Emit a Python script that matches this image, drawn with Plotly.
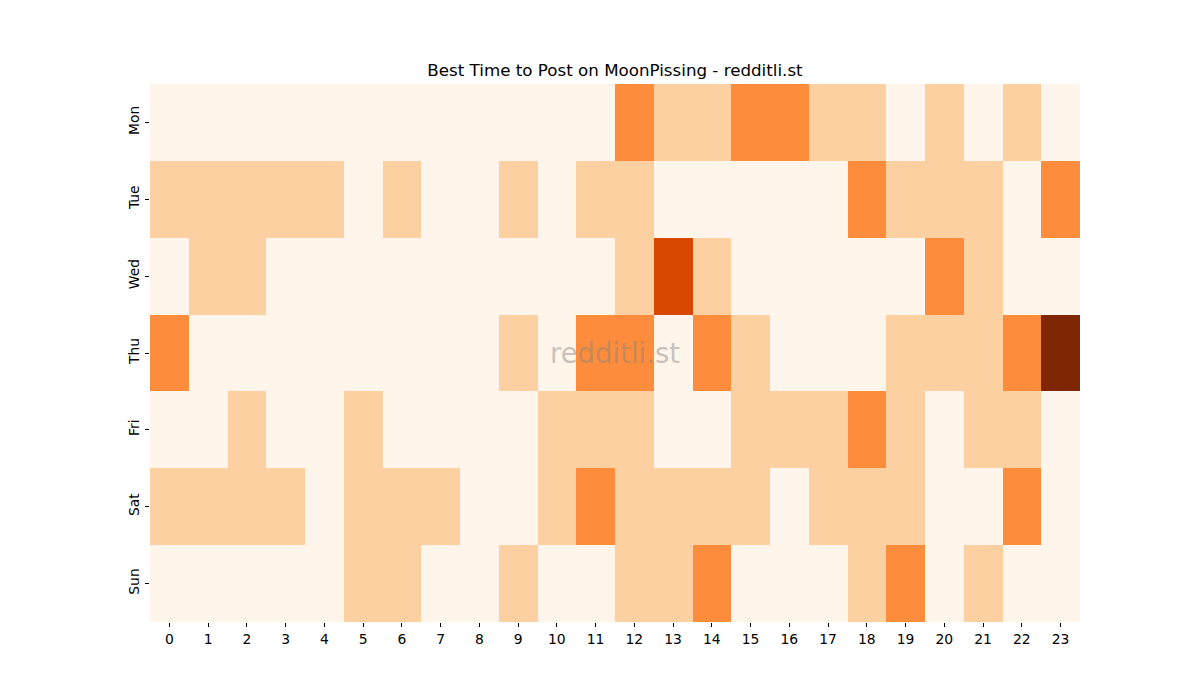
import plotly.graph_objects as go

days = ["Mon", "Tue", "Wed", "Thu", "Fri", "Sat", "Sun"]
hours = list(range(24))

mon = [0,0,0,0,0,0,0,0,0,0,0,0,2,1,1,2,2,1,1,0,1,0,1,0]
tue = [1,1,1,1,1,0,1,0,0,1,0,1,1,0,0,0,0,0,2,1,1,1,0,2]
wed = [0,1,1,0,0,0,0,0,0,0,0,0,1,3,1,0,0,0,0,0,2,1,0,0]
thu = [2,0,0,0,0,0,0,0,0,1,0,2,2,0,2,1,0,0,0,1,1,1,2,4]
fri = [0,0,1,0,0,1,0,0,0,0,1,1,1,0,0,1,1,1,2,1,0,1,1,0]
sat = [1,1,1,1,0,1,1,1,0,0,1,2,1,1,1,1,0,1,1,1,0,0,2,0]
sun = [0,0,0,0,0,1,1,0,0,1,0,0,1,1,2,0,0,0,1,2,0,1,0,0]

z = [mon, tue, wed, thu, fri, sat, sun]

font = "DejaVu Sans"

fig = go.Figure(
    go.Heatmap(
        z=z,
        x=hours,
        y=days,
        colorscale="Oranges",
        zmin=0,
        zmax=4,
        showscale=False,
        xgap=0,
        ygap=0,
    )
)

fig.update_layout(
    width=1200,
    height=700,
    margin=dict(l=150, r=120, t=84, b=78),
    paper_bgcolor="white",
    plot_bgcolor="white",
    font=dict(family=font, color="black", size=13.9),
    title=dict(
        text="Best Time to Post on MoonPissing - redditli.st",
        x=0.5125,
        xanchor="center",
        y=1 - 70 / 700,
        yanchor="middle",
        font=dict(family=font, size=16.7, color="black"),
    ),
    annotations=[
        dict(
            text="redditli.st",
            x=0.5,
            y=0.5,
            xref="paper",
            yref="paper",
            showarrow=False,
            font=dict(family=font, size=27.5, color="rgba(128,128,128,0.45)"),
        )
    ],
)

fig.update_xaxes(
    tickmode="array",
    tickvals=hours,
    ticktext=[str(h) for h in hours],
    ticks="outside",
    ticklen=4,
    tickcolor="black",
    showgrid=False,
    zeroline=False,
    showline=False,
    tickfont=dict(family=font, size=13.9),
)
fig.update_yaxes(
    autorange="reversed",
    tickmode="array",
    tickvals=days,
    ticktext=days,
    ticks="outside",
    ticklen=4,
    tickcolor="black",
    tickangle=-90,
    showgrid=False,
    zeroline=False,
    showline=False,
    tickfont=dict(family=font, size=13.9),
)

fig.write_html("out.html")
